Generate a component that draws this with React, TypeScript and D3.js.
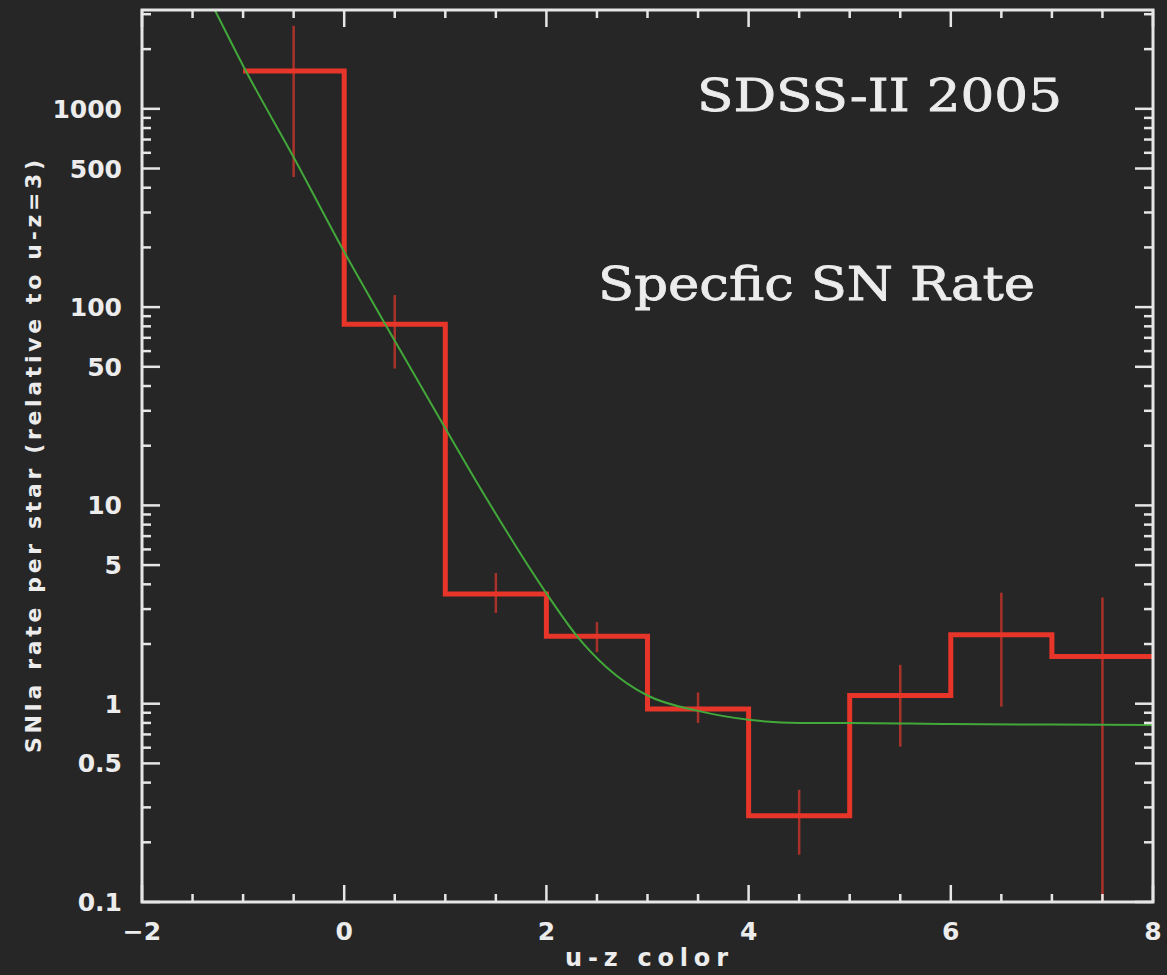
import React from "react";
import * as d3 from "d3";

// Histogram bins (u-z colour lower edges) and specific SN Ia rate per bin
const binEdges = [-1, 0, 1, 2, 3, 4, 5, 6, 7, 8];
const binRates = [1550, 82, 3.57, 2.19, 0.94, 0.272, 1.1, 2.23, 1.73];

// Error bars at bin centres
const errX = [-0.5, 0.5, 1.5, 2.5, 3.5, 4.5, 5.5, 6.5, 7.5];
const errHi = [2620, 115, 4.56, 2.58, 1.14, 0.368, 1.57, 3.63, 3.43];
const errLo = [453, 49, 2.87, 1.82, 0.8, 0.173, 0.607, 0.966, 0.05];

// Model curve
const modelX = [-1.35, -1.28, -1.0, -0.5, 0.0, 0.4, 1.0, 1.4, 2.0, 2.3, 2.6, 3.0, 3.5, 4.0, 4.5, 5.0, 6.0, 7.0, 8.0];
const modelY = [3700, 3150, 1650, 570, 190, 83, 24.5, 11, 3.6, 2.2, 1.52, 1.1, 0.92, 0.83, 0.8, 0.8, 0.79, 0.785, 0.78];

// Ticks
const xMajor = [-2, 0, 2, 4, 6, 8];
const xMinor = d3.range(-2, 8.01, 0.5);
const yLabelled = [0.1, 0.5, 1, 5, 10, 50, 100, 500, 1000];
const yTickLabels = ["0.1", "0.5", "1", "5", "10", "50", "100", "500", "1000"];

const title1 = "SDSS-II 2005";
const title2 = "Specfic SN Rate";
const xTitle = "u-z color";
const yTitle = "SNIa rate per star (relative to u-z=3)";

const W = 1167;
const H = 975;
const L = 142, R = 1153, T = 10, B = 902;

export default function App() {
  const x = d3.scaleLinear().domain([-2, 8]).range([L, R]);
  const y = d3.scaleLog().domain([0.1, 3150]).range([B, T]);

  const yMinor: number[] = [];
  for (let k = -1; k <= 3; k++) {
    for (let m = 1; m <= 9; m++) {
      const v = m * Math.pow(10, k);
      if (v >= 0.1 && v <= 3150) yMinor.push(v);
    }
  }

  const stepPts: [number, number][] = binEdges.map((e, i) => [e, binRates[Math.min(i, binRates.length - 1)]]);
  const stepLine = d3
    .line<[number, number]>()
    .x((d) => x(d[0]))
    .y((d) => y(d[1]))
    .curve(d3.curveStepAfter);

  const modelLine = d3
    .line<number>()
    .x((d) => x(modelX[d]))
    .y((d) => y(modelY[d]))
    .curve(d3.curveMonotoneX);

  const axisColor = "#e6e6e6";
  const font = "'DejaVu Sans', sans-serif";

  return (
    <svg
      width={W}
      height={H}
      style={{ position: "absolute", left: 0, top: 0, display: "block" }}
      xmlns="http://www.w3.org/2000/svg"
    >
      <defs>
        <clipPath id="plot">
          <rect x={L} y={T} width={R - L} height={B - T} />
        </clipPath>
      </defs>
      <rect x={0} y={0} width={W} height={H} fill="#262626" />

      {/* data */}
      <g clipPath="url(#plot)">
        {errX.map((v, i) => (
          <line
            key={"e" + i}
            x1={x(v)}
            x2={x(v)}
            y1={y(errHi[i])}
            y2={y(errLo[i])}
            stroke="#a8322a"
            strokeWidth={2.5}
          />
        ))}
        <path d={stepLine(stepPts) || ""} fill="none" stroke="#e8352a" strokeWidth={5} />
        <path
          d={modelLine(d3.range(modelX.length)) || ""}
          fill="none"
          stroke="#42a83a"
          strokeWidth={2}
        />
      </g>

      {/* frame */}
      <rect x={L} y={T} width={R - L} height={B - T} fill="none" stroke={axisColor} strokeWidth={3} />

      {/* x ticks */}
      {xMinor.map((v, i) => {
        const major = xMajor.includes(v);
        const len = major ? 17 : 8;
        return (
          <g key={"xt" + i} stroke={axisColor} strokeWidth={2.5}>
            <line x1={x(v)} x2={x(v)} y1={B} y2={B - len} />
            <line x1={x(v)} x2={x(v)} y1={T} y2={T + len} />
          </g>
        );
      })}
      {xMajor.map((v, i) => (
        <text
          key={"xl" + i}
          x={x(v)}
          y={940}
          textAnchor="middle"
          fill="#ececec"
          fontFamily={font}
          fontWeight="bold"
          fontSize={25}
        >
          {v < 0 ? "\u2212" + Math.abs(v) : String(v)}
        </text>
      ))}

      {/* y ticks */}
      {yMinor.map((v, i) => {
        const major = yLabelled.some((t) => Math.abs(t - v) / v < 1e-6);
        const len = major ? 18 : 9;
        return (
          <g key={"yt" + i} stroke={axisColor} strokeWidth={2.5}>
            <line x1={L} x2={L + len} y1={y(v)} y2={y(v)} />
            <line x1={R} x2={R - len} y1={y(v)} y2={y(v)} />
          </g>
        );
      })}
      {yLabelled.map((v, i) => (
        <text
          key={"yl" + i}
          x={122}
          y={y(v)}
          dy="0.36em"
          textAnchor="end"
          fill="#ececec"
          fontFamily={font}
          fontWeight="bold"
          fontSize={25}
        >
          {yTickLabels[i]}
        </text>
      ))}

      {/* titles */}
      <text
        x={697}
        y={111}
        fill="#ececec"
        stroke="#ececec"
        strokeWidth={0.8}
        fontFamily="'DejaVu Serif', serif"
        fontSize={44}
        textLength={365}
        lengthAdjust="spacingAndGlyphs"
      >
        {title1}
      </text>
      <text
        x={598}
        y={300}
        fill="#ececec"
        stroke="#ececec"
        strokeWidth={0.8}
        fontFamily="'DejaVu Serif', serif"
        fontSize={46}
        textLength={437}
        lengthAdjust="spacingAndGlyphs"
      >
        {title2}
      </text>

      {/* axis titles */}
      <text
        x={565}
        y={966}
        fill="#ececec"
        fontFamily={font}
        fontWeight="bold"
        fontSize={24}
        textLength={163}
        lengthAdjust="spacing"
      >
        {xTitle}
      </text>
      <text
        transform="translate(41,753) rotate(-90)"
        x={0}
        y={0}
        fill="#ececec"
        fontFamily={font}
        fontWeight="bold"
        fontSize={22}
        textLength={593}
        lengthAdjust="spacing"
      >
        {yTitle}
      </text>
    </svg>
  );
}
